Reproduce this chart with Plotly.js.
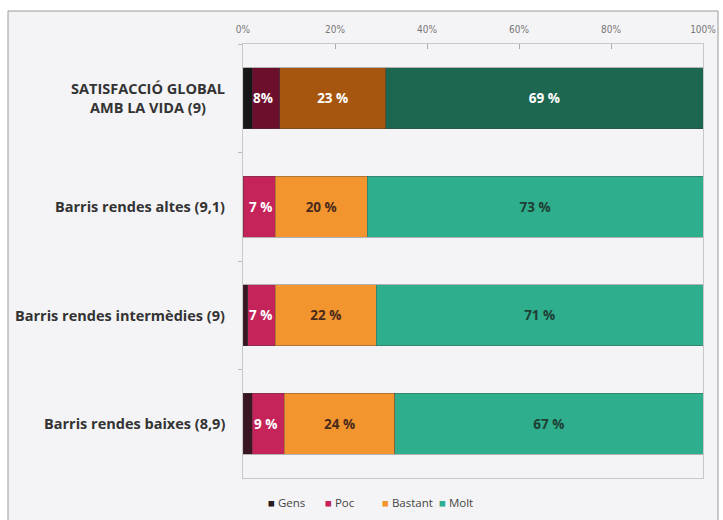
<!DOCTYPE html>
<html>
<head>
<meta charset="utf-8">
<script src="https://cdn.plot.ly/plotly-3.0.1.min.js"></script>
<style>html,body{margin:0;padding:0;background:#fff;}#chart{width:723px;height:520px;}</style>
</head>
<body>
<div id="chart"></div>
<script>
const categories = ["SATISFACCIÓ GLOBAL<br>AMB LA VIDA (9)", "Barris rendes altes (9,1)", "Barris rendes intermèdies (9)", "Barris rendes baixes (8,9)"];
const seriesNames = ["Gens", "Poc", "Bastant", "Molt"];
const gens = [2, 0, 1, 2];
const poc = [6, 7, 6, 7];
const bastant = [23, 20, 22, 24];
const molt = [69, 73, 71, 67];
const lowLabels = ["8%", "7 %", "7 %", "9 %"];
const bastantLabels = ["23 %", "20 %", "22 %", "24 %"];
const moltLabels = ["69 %", "73 %", "71 %", "67 %"];
const tickVals = [0, 20, 40, 60, 80, 100];
const tickText = ["0%", "20%", "40%", "60%", "80%", "100%"];

const cGens = ["#161616", "#3a1522", "#3a1522", "#3a1522"];
const cPoc = ["#6c0f2c", "#c4245a", "#c4245a", "#c4245a"];
const cBast = ["#a6560e", "#f2952f", "#f2952f", "#f2952f"];
const cMolt = ["#1d6650", "#2eae8c", "#2eae8c", "#2eae8c"];
const legendColors = ["#2a1a20", "#c4245a", "#f2952f", "#2eae8c"];
const lineStyle = {width: 0.6, color: "rgba(60,60,60,0.6)"};
const font = "'Open Sans', Lato, sans-serif";

const specs = [
  {x: gens, color: cGens},
  {x: poc, color: cPoc},
  {x: bastant, color: cBast, text: bastantLabels, tcol: ["#ffffff", "#4a2a1a", "#4a2a1a", "#4a2a1a"]},
  {x: molt, color: cMolt, text: moltLabels, tcol: ["#ffffff", "#1e3e34", "#1e3e34", "#1e3e34"]}
];

const data = specs.map((t, k) => ({
  type: "bar", orientation: "h", name: seriesNames[k], y: categories, x: t.x, width: 0.56,
  showlegend: false,
  marker: {color: t.color, line: lineStyle},
  text: t.text || null,
  texttemplate: t.text ? "%{text}" : "",
  textposition: t.text ? "inside" : "none",
  insidetextanchor: "middle",
  constraintext: "none",
  textfont: {family: font, size: 13.5, color: t.tcol || "#fff", weight: "bold"},
  hoverinfo: "x+name"
}));
// legend entries: coloured square glyph + series name (plus one empty spacer entry)
seriesNames.concat([" "]).forEach((n, k) => {
  data.push({type: "bar", orientation: "h",
             name: k < seriesNames.length ? "<span style='color:" + legendColors[k] + "'>■</span> " + n : n,
             y: [categories[0]], x: [0], width: 0.56,
             marker: {color: "rgba(0,0,0,0)", line: {width: 0}}, showlegend: true,
             hoverinfo: "skip", textposition: "none"});
});

const annotations = [];
categories.forEach((c, i) => {
  annotations.push({
    xref: "paper", yref: "y", x: -0.035, y: c, text: "<b>" + c + "</b>",
    xanchor: "right", yanchor: "middle", align: "center", showarrow: false,
    font: {family: font, size: 14.5, color: "#333"}
  });
  annotations.push({
    xref: "x", yref: "y", x: (gens[i] + poc[i]) / 2 + 0.3, y: c, text: "<b>" + lowLabels[i] + "</b>",
    xanchor: "center", yanchor: "middle", showarrow: false,
    font: {family: font, size: 13.5, color: "#ffffff"}
  });
});

const layout = {
  width: 723, height: 520,
  margin: {l: 243, r: 20, t: 44, b: 42},
  paper_bgcolor: "#ffffff",
  plot_bgcolor: "#fcfcfd",
  barmode: "stack",
  showlegend: true,
  legend: {orientation: "h", x: 228 / 723, xanchor: "left", xref: "container", y: 0.033, yanchor: "middle",
           yref: "container", traceorder: "normal", entrywidth: 12, entrywidthmode: "pixels",
           font: {family: font, size: 11.5, color: "#444"}, itemwidth: 30, bgcolor: "rgba(0,0,0,0)"},
  xaxis: {side: "top", range: [0, 100], tickvals: tickVals, ticktext: tickText,
          ticks: "inside", ticklen: 5, tickcolor: "#aaa", showgrid: false, zeroline: false,
          showline: true, linecolor: "#c8c8c8", mirror: true, ticklabelstandoff: 6,
          tickfont: {family: "'Liberation Sans Narrow', 'DejaVu Sans Condensed', sans-serif", size: 10, color: "#777"}},
  yaxis: {type: "category", autorange: "reversed", showticklabels: false,
          ticks: "outside", tickson: "boundaries", ticklen: 4, tickcolor: "#bbb",
          showgrid: false, showline: true, linecolor: "#c8c8c8", mirror: true, zeroline: false},
  annotations: annotations,
  shapes: [{type: "rect", xref: "paper", yref: "paper", layer: "below",
            x0: (8 - 243) / 460, x1: (718 - 243) / 460, y0: (478 - 522) / 434, y1: (478 - 11) / 434,
            line: {color: "#9a9a9a", width: 1}, fillcolor: "#f4f4f6"}]
};

Plotly.newPlot("chart", data, layout, {displayModeBar: false, staticPlot: true});
</script>
</body>
</html>
